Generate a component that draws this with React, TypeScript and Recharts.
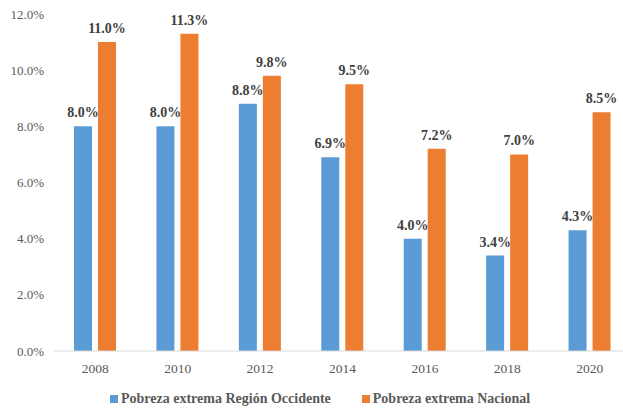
import React from 'react';
import { BarChart, Bar, XAxis, YAxis, Legend, LabelList } from 'recharts';

const years = ['2008', '2010', '2012', '2014', '2016', '2018', '2020'];
const occidente = [8.0, 8.0, 8.8, 6.9, 4.0, 3.4, 4.3];
const nacional = [11.0, 11.3, 9.8, 9.5, 7.2, 7.0, 8.5];
const yTicks = [0, 2, 4, 6, 8, 10, 12];

const serieOcc = 'Pobreza extrema Región Occidente';
const serieNac = 'Pobreza extrema Nacional';
const BLUE = '#5B9BD5';
const ORANGE = '#ED7D31';

const data = years.map((y, i) => ({ year: y, occ: occidente[i], nac: nacional[i] }));

const FONT = 'Liberation Serif, Times New Roman, serif';
const pct = (v: number) => `${Number(v).toFixed(1)}%`;

const legendItems = [
  { label: serieOcc, color: BLUE },
  { label: serieNac, color: ORANGE },
];

const LegendBox = () => (
  <div style={{ height: 32, display: 'flex', alignItems: 'center', paddingLeft: 110, paddingTop: 4, boxSizing: 'border-box' }}>
    {legendItems.map((p, i) => (
      <div key={i} style={{ display: 'flex', alignItems: 'center', marginRight: 31 }}>
        <span style={{ width: 8, height: 8, background: p.color, display: 'inline-block', marginRight: 3 }} />
        <span style={{ fontFamily: FONT, fontWeight: 'bold', fontSize: 14, color: '#595959' }}>{p.label}</span>
      </div>
    ))}
  </div>
);

const App = () => {
  return (
    <div style={{ position: 'absolute', left: 0, top: 0, width: 623, height: 413, overflow: 'hidden', background: '#fff' }}>
      <BarChart width={631} height={413} data={data} margin={{ top: 14, right: 0, left: 0, bottom: 0 }} barSize={18} barGap={6}>
        <XAxis
          dataKey="year"
          height={30}
          tickLine={false}
          axisLine={{ stroke: '#D9D9D9' }}
          tick={{ fill: '#595959', fontSize: 13.5, fontFamily: FONT }}
          tickMargin={6}
        />
        <YAxis
          width={54}
          domain={[0, 12]}
          ticks={yTicks}
          tickFormatter={pct}
          axisLine={false}
          tickLine={false}
          tick={{ fill: '#595959', fontSize: 13, fontFamily: FONT }}
          tickMargin={4}
        />
        <Legend verticalAlign="bottom" content={<LegendBox />} />
        <Bar dataKey="occ" name={serieOcc} fill={BLUE} isAnimationActive={false}>
          <LabelList dataKey="occ" position="top" offset={9} formatter={pct}
            style={{ fill: '#404040', fontSize: 14, fontWeight: 'bold', fontFamily: FONT }} />
        </Bar>
        <Bar dataKey="nac" name={serieNac} fill={ORANGE} isAnimationActive={false}>
          <LabelList dataKey="nac" position="top" offset={9} formatter={pct}
            style={{ fill: '#404040', fontSize: 14, fontWeight: 'bold', fontFamily: FONT }} />
        </Bar>
      </BarChart>
    </div>
  );
};

export default App;
